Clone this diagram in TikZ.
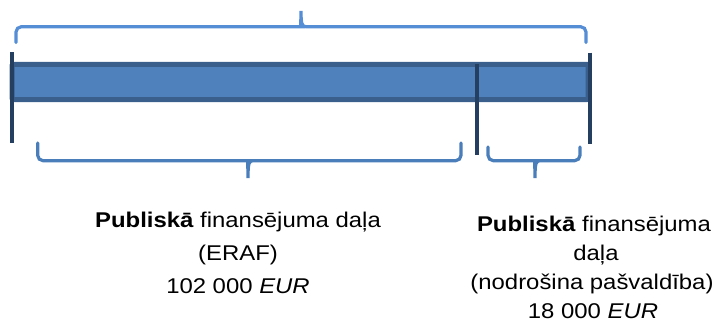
\documentclass[tikz,border=0pt]{standalone}
\usepackage{fontspec}
\setmainfont{Liberation Sans}
\definecolor{barfill}{HTML}{4F81BD}
\definecolor{barline}{HTML}{3A5F8C}
\definecolor{tickcol}{HTML}{243F60}
\definecolor{topbrace}{HTML}{558ED5}
\definecolor{botbrace}{HTML}{4A7EBB}
\tikzset{
  bar/.style={fill=barfill, draw=barline, line width=3.75pt, rounded corners=1pt},
  tick/.style={draw=tickcol, line width=3.6pt},
  bracestyle/.style={line width=2.4pt, rounded corners=4pt, line cap=round},
  txt/.style={anchor=base, inner sep=0pt, xscale=1.12, transform shape,
    font=\fontsize{16pt}{19pt}\selectfont},
}
\begin{document}
\begin{tikzpicture}[x=0.75pt, y=-0.75pt]
\useasboundingbox (0,0) rectangle (715,330);
% bar
\draw[bar] (12,64.3) rectangle (588,99.5);
% ticks
\draw[tick] (12,52) -- (12,143);
\draw[tick] (477,64) -- (477,155);
\draw[tick] (590,52.7) -- (590,144);
% top brace
\draw[bracestyle, draw=topbrace]
  (16,42.5) -- (16,26.7) -- (296,26.7)
  [sharp corners] .. controls (300,26.7) and (301,24) .. (301,11)
  .. controls (301,24) and (302,26.7) .. (306,26.7)
  [rounded corners=4pt] -- (586,26.7) -- (586,42.5);
% bottom left brace
\draw[bracestyle, draw=botbrace]
  (37.7,143) -- (37.7,160.7) -- (243,160.7)
  [sharp corners] .. controls (247,160.7) and (248,163) .. (248,178)
  .. controls (248,163) and (249,160.7) .. (253,160.7)
  [rounded corners=4pt] -- (461,160.7) -- (461,143);
% bottom right brace
\draw[bracestyle, draw=botbrace]
  (488,147) -- (488,160.7) -- (530,160.7)
  [sharp corners] .. controls (534,160.7) and (535,163) .. (535,178)
  .. controls (535,163) and (536,160.7) .. (540,160.7)
  [rounded corners=4pt] -- (580,160.7) -- (580,147);
% left text
\node[txt] (l1) at (238,227) {\textbf{Publiskā} finansējuma daļa};
\node[txt] (l2) at (238,260) {(ERAF)};
\node[txt] (l3) at (238,293) {102 000 \textit{EUR}};
% right text
\node[txt] (r1) at (594,231) {\textbf{Publiskā} finansējuma};
\node[txt] (r2) at (596,260) {daļa};
\node[txt] (r3) at (592,289) {(nodrošina pašvaldība)};
\node[txt] (r4) at (593,318) {18 000 \textit{EUR}};
\end{tikzpicture}
\end{document}
